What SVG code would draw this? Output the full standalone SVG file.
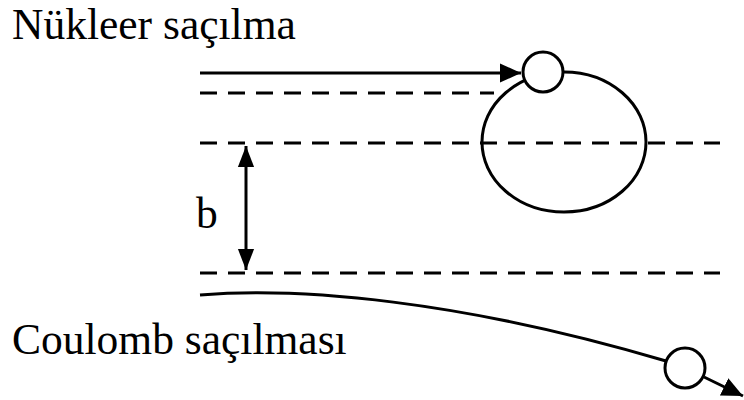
<svg xmlns="http://www.w3.org/2000/svg" width="744" height="400" viewBox="0 0 744 400">
<style>
.t{font-family:"Liberation Serif","Times New Roman",serif;font-size:43.5px;fill:#000}
.s{fill:none;stroke:#000;stroke-width:3}
.d{fill:none;stroke:#000;stroke-width:3;stroke-dasharray:17 11}
.p{fill:#fff;stroke:#000;stroke-width:3}
</style>
<defs>
<marker id="ah" markerWidth="8" markerHeight="8" refX="7" refY="4" orient="auto" markerUnits="strokeWidth">
<path d="M0,0.8 L7,4 L0,7.2 Z" fill="#000"/>
</marker>
<marker id="as" markerWidth="8" markerHeight="8" refX="7" refY="4" orient="auto-start-reverse" markerUnits="strokeWidth">
<path d="M0,1.3 L7,4 L0,6.7 Z" fill="#000"/>
</marker>
</defs>
<g id="labels">
<text class="t" x="12" y="39">Nükleer saçılma</text>
<text class="t" x="12" y="354">Coulomb saçılması</text>
<text class="t" x="196" y="228">b</text>
</g>
<g id="guides">
<line class="d" x1="200" y1="93" x2="494" y2="93"/>
<line class="d" x1="200" y1="143" x2="720" y2="143"/>
<line class="d" x1="200" y1="273" x2="720" y2="273"/>
</g>
<g id="nucleus">
<ellipse class="s" cx="564" cy="142" rx="82" ry="70"/>
</g>
<g id="connectors">
<line class="s" x1="200" y1="73" x2="521" y2="73" marker-end="url(#ah)"/>
<line class="s" x1="246" y1="146" x2="246" y2="270" marker-start="url(#as)" marker-end="url(#as)"/>
<path class="s" d="M200,295 C300,287 460,300 666,361"/>
<line class="s" x1="704" y1="377" x2="743" y2="396" marker-end="url(#ah)"/>
</g>
<g id="particle-top">
<circle class="p" cx="543" cy="72" r="20"/>
</g>
<g id="particle-bottom">
<circle class="p" cx="685" cy="368" r="20"/>
</g>
</svg>
